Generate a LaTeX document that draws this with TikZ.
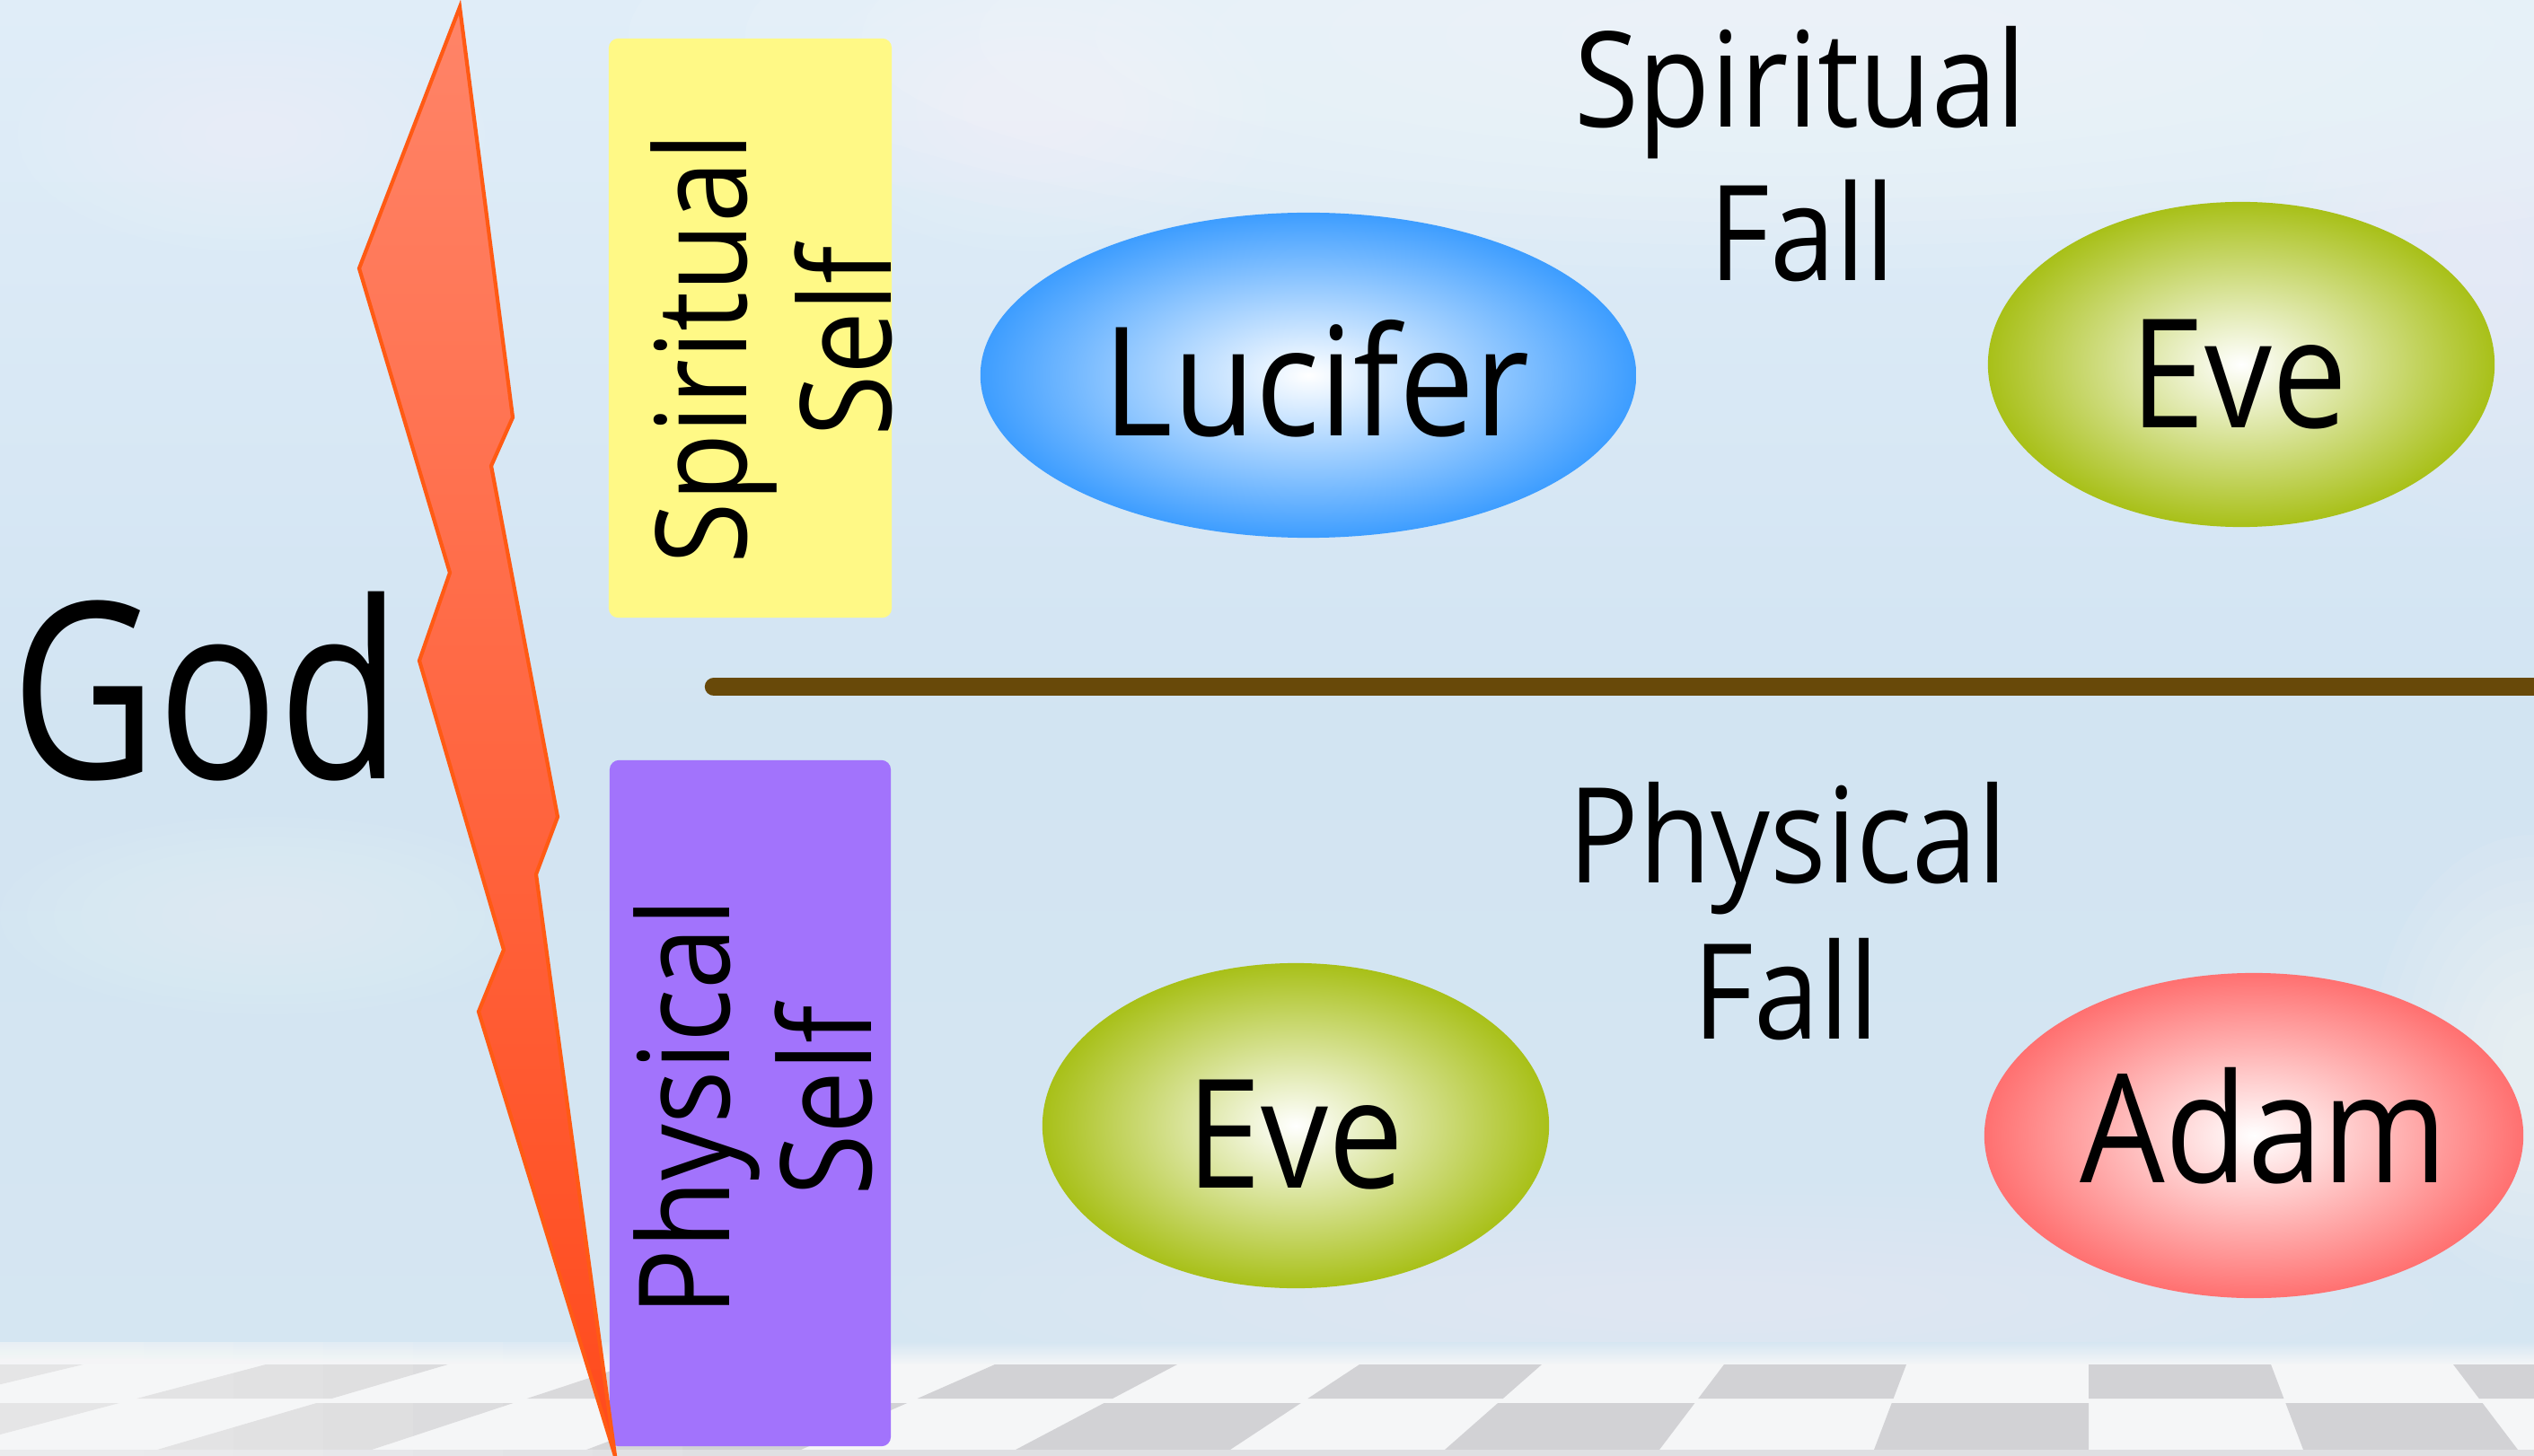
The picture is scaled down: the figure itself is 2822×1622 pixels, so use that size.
\documentclass[tikz,border=0pt]{standalone}
\usepackage{fontspec}
\setmainfont{Open Sans}[FakeStretch=0.886]
\newfontfamily\godfamily{Open Sans}[FakeStretch=0.815]
\usetikzlibrary{shapes.geometric}
\definecolor{skytop}{HTML}{E0EDF8}
\definecolor{skymid}{HTML}{D2E4F2}
\definecolor{skybot}{HTML}{D6E6F2}
\definecolor{ybox}{HTML}{FFF986}
\definecolor{pbox}{HTML}{A273FC}
\definecolor{linebrown}{HTML}{684909}
\definecolor{bolttop}{HTML}{FF8468}
\definecolor{boltbot}{HTML}{FF4A1C}
\definecolor{boltedge}{HTML}{FF5A14}
\definecolor{lucout}{HTML}{3D9DFF}
\definecolor{eveout}{HTML}{A8C018}
\definecolor{adamout}{HTML}{FF7070}
\definecolor{tilegray}{HTML}{D2D2D5}
\definecolor{tilewhite}{HTML}{F5F6F7}
\newcommand\cloudpuff[5]{\foreach \sc in {1,0.9,...,0.1}{\fill[white,opacity=#5] (#1,#2) ellipse [x radius={\sc*#3}, y radius={\sc*#4}];}}
\newcommand\fsGod{\fontsize{78}{90}\godfamily\selectfont}
\newcommand\fsBig{\fontsize{48}{58}\selectfont}
\newcommand\fsMid{\fontsize{42}{50}\selectfont}
\newcommand\fsBox{\fontsize{40}{48}\selectfont}
\tikzset{
  lbl/.style={inner sep=0, anchor=base, text=black},
  vlbl/.style={lbl, rotate=90, font=\fsBox},
  selfbox/.style={rectangle, rounded corners=3pt, inner sep=0, draw=none},
  blob/.style={ellipse, inner sep=0, draw=none, minimum height=3.62cm, inner color=white}
}
\begin{document}
\begin{tikzpicture}[x=0.01cm,y=-0.01cm]
\useasboundingbox (0,0) rectangle (2822,1622);
% sky
\shade[top color=skytop, bottom color=skybot, middle color=skymid] (0,0) rectangle (2822,1622);
% clouds
\cloudpuff{2000}{40}{1300}{260}{0.07}
\cloudpuff{1150}{120}{260}{160}{0.05}
\cloudpuff{280}{150}{260}{130}{0.05}
\cloudpuff{2760}{300}{250}{300}{0.04}
\cloudpuff{2822}{1180}{180}{250}{0.07}
\cloudpuff{300}{1020}{300}{110}{0.045}
\cloudpuff{1900}{1450}{900}{120}{0.03}
% floor
\shade[top color=skybot, bottom color=tilewhite] (0,1495) rectangle (2822,1521);
\fill[tilewhite] (0,1520) rectangle (2822,1622);
\foreach \i in {-12,-10,...,2}{
  \fill[tilegray] ({2326+\i*203},1520) -- ({2326+(\i+1)*203},1520) -- ({2326+(\i+1)*217.4},1558) -- ({2326+\i*217.4},1558) -- cycle;}
\foreach \i in {-11,-9,...,1}{
  \fill[tilegray] ({2326+\i*219.3},1563) -- ({2326+(\i+1)*219.3},1563) -- ({2326+(\i+1)*239},1615) -- ({2326+\i*239},1615) -- cycle;}
\fill[tilegray!70] (0,1615) rectangle (2822,1622);
\foreach \k in {0,...,6}{\fill[white,opacity=0.09] (0,1495) rectangle ({760-\k*100},1622);}
% self boxes
\node[selfbox, fill=ybox, minimum width=3.15cm, minimum height=6.45cm] (sbox) at (835.5,365.5) {};
\node[selfbox, fill=pbox, minimum width=3.13cm, minimum height=7.64cm] (pbox) at (835.5,1229) {};
\node[vlbl] (sbA) at (831,388) {Spiritual};
\node[vlbl] (sbB) at (992,380) {Self};
\node[vlbl] (pbA) at (812,1234) {Physical};
\node[vlbl] (pbB) at (970,1226) {Self};
% lightning bolt
\shade[top color=bolttop, bottom color=boltbot, draw=boltedge, line width=1.2pt, line join=miter]
  (512,8) -- (571,465) -- (547,519) -- (621,910) -- (597,974) -- (685,1622)
  -- (533,1127) -- (561,1058) -- (467,736) -- (501,638) -- (400,299) -- cycle;
% divider
\coordinate (lineL) at (795,765);
\coordinate (lineR) at (2840,765);
\draw[linebrown, line width=5.8pt, line cap=round] (lineL) -- (lineR);
% ellipses
\node[blob, outer color=lucout, minimum width=7.3cm] (lucE) at (1457,418) {};
\node[blob, outer color=eveout, minimum width=5.64cm] (eveTE) at (2496,406) {};
\node[blob, outer color=eveout, minimum width=5.64cm] (eveBE) at (1443,1254) {};
\node[blob, outer color=adamout, minimum width=6.0cm] (adamE) at (2510,1265) {};
% labels
\node[lbl, font=\fsGod] (god) at (230,867) {God};
\node[lbl, font=\fsBig] (lucT) at (1466,486) {Lucifer};
\node[lbl, font=\fsBig] (eveTT) at (2493,477) {Eve};
\node[lbl, font=\fsBig] (eveBT) at (1442,1323) {Eve};
\node[lbl, font=\fsBig] (adamT) at (2521,1317) {Adam};
\node[lbl, font=\fsMid] (sfA) at (2005,142) {Spiritual};
\node[lbl, font=\fsMid] (sfB) at (2007,313) {Fall};
\node[lbl, font=\fsMid] (pfA) at (1991,983) {Physical};
\node[lbl, font=\fsMid] (pfB) at (1989,1157) {Fall};
\end{tikzpicture}
\end{document}
